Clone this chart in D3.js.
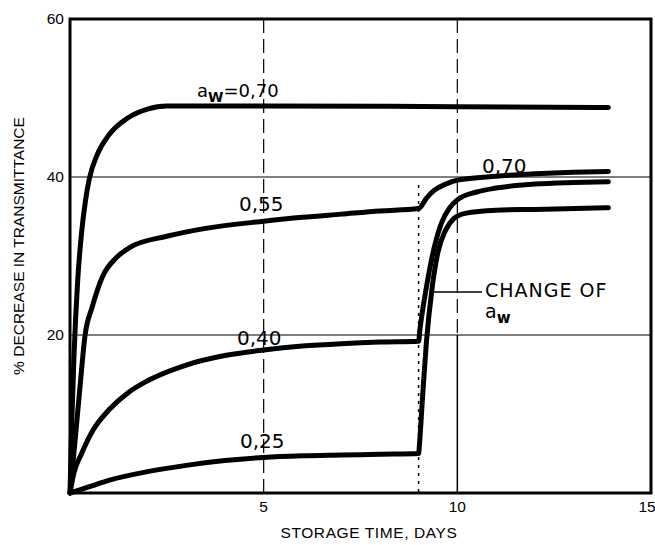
<!DOCTYPE html>
<html><head><meta charset="utf-8">
<script src="https://cdn.jsdelivr.net/npm/d3@7"></script>
<style>body{margin:0;background:#fff}svg{display:block}</style>
</head><body>
<svg id="c" width="655" height="545"></svg>
<script>
// Data (days, % decrease in transmittance)
const seriesNames = ["0,70", "0,55", "0,40", "0,25"];
const aw070 = [[0,0],[0.04,8],[0.1,17],[0.2,27],[0.3,33],[0.4,37],[0.5,39.8],[0.7,42.8],[1.0,45.3],[1.5,47.5],[2.0,48.6],[2.5,49],[5,49],[10,48.9],[13.9,48.8]];
const aw055 = [[0,0],[0.1,5],[0.25,13],[0.39,20],[0.57,23.5],[0.85,27.5],[1.2,29.8],[1.55,31.1],[2.5,32.5],[3.5,33.5],[5,34.4],[6,34.9],[7,35.3],[8,35.7],[9,36],[9.2,37.3],[9.4,38.3],[9.7,39.1],[10,39.6],[11,40.1],[12,40.4],[13,40.6],[13.9,40.7]];
const aw040 = [[0,0],[0.1,2.5],[0.3,5],[0.6,8],[1,10.5],[1.5,12.7],[2,14.2],[3,16.2],[4,17.4],[5,18.1],[6,18.6],[7,18.9],[8,19.1],[9,19.2],[9.03,20.5],[9.2,26],[9.4,31],[9.6,34.3],[9.8,36.1],[10,37.1],[10.5,38.1],[11,38.6],[12,39.1],[13,39.3],[13.9,39.4]];
const aw025 = [[0,0],[0.5,0.8],[1,1.6],[2,2.7],[3,3.5],[4,4.1],[5,4.5],[6,4.7],[7,4.8],[8,4.9],[9,5.0],[9.02,6],[9.1,12],[9.2,19],[9.35,26],[9.5,30.5],[9.7,33.3],[9.9,34.7],[10.2,35.4],[11,35.8],[12,35.9],[13.9,36.1]];
const xTicks = [5, 10, 15];
const yTicks = [20, 40, 60];
const changeDay = 9;

const svg = d3.select("#c");
const x = d3.scaleLinear().domain([0, 15]).range([70, 651]);
const y = d3.scaleLinear().domain([0, 60]).range([493, 19]);
const font = "'Liberation Sans', Arial, sans-serif";

// gridlines
const g = svg.append("g").attr("stroke", "#000").attr("fill", "none");
[20, 40].forEach(v => g.append("line").attr("x1", x(0)).attr("x2", x(15)).attr("y1", y(v)).attr("y2", y(v)).attr("stroke-width", 1.2));
g.append("line").attr("x1", x(5)).attr("x2", x(5)).attr("y1", y(60)).attr("y2", y(0)).attr("stroke-width", 1.2).attr("stroke-dasharray", "14,6");
g.append("line").attr("x1", x(10)).attr("x2", x(10)).attr("y1", y(60)).attr("y2", y(20)).attr("stroke-width", 1.2).attr("stroke-dasharray", "14,6");
g.append("line").attr("x1", x(10)).attr("x2", x(10)).attr("y1", y(20)).attr("y2", y(0)).attr("stroke-width", 1.5);
// change of aw dotted line
g.append("line").attr("x1", x(changeDay)).attr("x2", x(changeDay)).attr("y1", y(39)).attr("y2", y(0)).attr("stroke-width", 1.5).attr("stroke-dasharray", "3,5");

// frame
svg.append("rect").attr("x", x(0)).attr("y", y(60)).attr("width", x(15) - x(0)).attr("height", y(0) - y(60))
  .attr("fill", "none").attr("stroke", "#000").attr("stroke-width", 3);

// tick labels
svg.append("g").selectAll("text").data(xTicks).join("text")
  .attr("x", d => x(d) - (d === 15 ? 4 : 0)).attr("y", 512).attr("text-anchor", "middle")
  .attr("font-family", font).attr("font-size", 15.5).text(d => d);
svg.append("g").selectAll("text").data(yTicks).join("text")
  .attr("x", 64).attr("y", d => y(d) + 5).attr("text-anchor", "end")
  .attr("font-family", font).attr("font-size", 15.5).text(d => d);

// axis titles
svg.append("text").attr("x", 369).attr("y", 538).attr("text-anchor", "middle")
  .attr("font-family", font).attr("font-size", 15.5).attr("letter-spacing", 0.6).text("STORAGE TIME, DAYS");
svg.append("text").attr("transform", "translate(24,246) rotate(-90)").attr("text-anchor", "middle")
  .attr("font-family", font).attr("font-size", 15.5).text("% DECREASE IN TRANSMITTANCE");

// curves
const line = d3.line().x(d => x(d[0])).y(d => y(d[1])).curve(d3.curveMonotoneX);
svg.append("g").selectAll("path").data([aw070, aw055, aw040, aw025]).join("path")
  .attr("d", line).attr("fill", "none").attr("stroke", "#000").attr("stroke-width", 5)
  .attr("stroke-linecap", "round").attr("stroke-linejoin", "round");

// labels
const lf = "'DejaVu Sans', sans-serif";
const t0 = svg.append("text").attr("x", 197).attr("y", 97).attr("font-family", lf).attr("font-size", 18);
t0.append("tspan").text("a");
t0.append("tspan").attr("dy", 5).attr("font-size", 14).attr("font-weight", "bold").text("W");
t0.append("tspan").attr("dy", -5).text("=" + seriesNames[0]);
const lbl = [[seriesNames[1], 239, 211], [seriesNames[2], 237, 345], [seriesNames[3], 240, 448], [seriesNames[0], 482, 173]];
svg.append("g").selectAll("text").data(lbl).join("text")
  .attr("x", d => d[1]).attr("y", d => d[2]).attr("font-family", lf).attr("font-size", 20).text(d => d[0]);

// change annotation
svg.append("line").attr("x1", x(9.3)).attr("x2", 482).attr("y1", 292).attr("y2", 292).attr("stroke", "#000").attr("stroke-width", 1.5);
svg.append("text").attr("x", 485).attr("y", 297).attr("font-family", lf).attr("font-size", 19).attr("letter-spacing", 1).text("CHANGE  OF");
const t1 = svg.append("text").attr("x", 485).attr("y", 318).attr("font-family", lf).attr("font-size", 19);
t1.append("tspan").text("a");
t1.append("tspan").attr("dy", 5).attr("font-size", 15).attr("font-weight", "bold").text("w");
</script>
</body></html>
